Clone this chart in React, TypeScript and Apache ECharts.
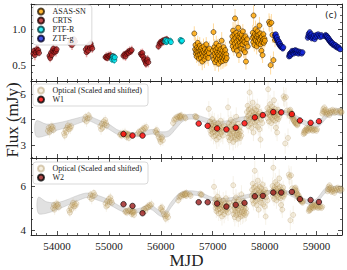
import React, { useEffect, useRef } from 'react';
import * as echarts from 'echarts';

// ---------- Data: optical light curves [MJD, normalised flux, error] ----------
const crts: number[][] = [
  [53545, 0.66, 0.06], [53560, 0.70, 0.05], [53575, 0.64, 0.07], [53590, 0.68, 0.05], [53610, 0.72, 0.06], [53625, 0.69, 0.05], [53640, 0.71, 0.06], [53655, 0.67, 0.05],
  [53855, 0.63, 0.07], [53870, 0.60, 0.06], [53885, 0.67, 0.06], [53900, 0.64, 0.07], [53915, 0.70, 0.05], [53930, 0.73, 0.06], [53950, 0.68, 0.05], [53965, 0.71, 0.06], [53980, 0.69, 0.07], [53995, 0.72, 0.05],
  [54255, 0.80, 0.06], [54270, 0.84, 0.05], [54290, 0.78, 0.07], [54310, 0.82, 0.06], [54330, 0.86, 0.05], [54350, 0.83, 0.06],
  [54555, 0.72, 0.06], [54570, 0.68, 0.07], [54585, 0.75, 0.06], [54600, 0.70, 0.05], [54620, 0.78, 0.06], [54635, 0.74, 0.07], [54650, 0.80, 0.06], [54665, 0.76, 0.05], [54680, 0.73, 0.06],
  [54935, 0.61, 0.05], [54950, 0.62, 0.06], [54970, 0.60, 0.05], [54990, 0.63, 0.06], [55010, 0.62, 0.05], [55030, 0.64, 0.06], [55050, 0.61, 0.05], [55070, 0.60, 0.06], [55090, 0.62, 0.05],
  [55280, 0.63, 0.06], [55300, 0.65, 0.05], [55320, 0.62, 0.06], [55340, 0.66, 0.05], [55360, 0.68, 0.06], [55380, 0.67, 0.05], [55400, 0.70, 0.06], [55420, 0.69, 0.05], [55440, 0.71, 0.06],
  [55615, 0.66, 0.06], [55630, 0.64, 0.07], [55645, 0.67, 0.06], [55660, 0.62, 0.07], [55680, 0.58, 0.06], [55700, 0.55, 0.07], [55715, 0.52, 0.06], [55730, 0.56, 0.07], [55745, 0.58, 0.06], [55760, 0.54, 0.07],
  [55955, 0.76, 0.05], [55975, 0.80, 0.06], [55995, 0.82, 0.05], [56015, 0.81, 0.06], [56035, 0.84, 0.05], [56055, 0.83, 0.06], [56075, 0.85, 0.05], [56095, 0.84, 0.06], [56115, 0.86, 0.05],
];

const ptfR: number[][] = [
  [55060, 0.58, 0.05], [55075, 0.62, 0.05], [55090, 0.60, 0.05], [55105, 0.57, 0.05], [55115, 0.61, 0.05],
  [56080, 0.83, 0.04], [56095, 0.85, 0.04], [56110, 0.82, 0.04], [56125, 0.84, 0.04],
  [56180, 0.84, 0.04], [56195, 0.82, 0.04],
  [56380, 0.85, 0.04], [56395, 0.83, 0.04], [56410, 0.84, 0.04],
];

const asassn: number[][] = [
  [56645, 0.94, 0.10], [56660, 0.72, 0.09], [56668, 0.78, 0.11], [56675, 0.66, 0.08], [56683, 0.70, 0.10], [56690, 0.62, 0.09], [56698, 0.75, 0.12], [56705, 0.68, 0.08], [56712, 0.81, 0.10], [56720, 0.64, 0.09], [56728, 0.73, 0.11], [56735, 0.59, 0.10], [56742, 0.69, 0.08], [56750, 0.77, 0.12], [56758, 0.65, 0.09], [56765, 0.71, 0.10], [56773, 0.60, 0.11], [56780, 0.74, 0.09], [56790, 0.67, 0.10], [56798, 0.55, 0.12], [56805, 0.70, 0.09], [56815, 0.63, 0.10], [56822, 0.76, 0.11], [56830, 0.68, 0.09], [56840, 0.58, 0.12], [56848, 0.72, 0.10], [56858, 0.66, 0.09], [56866, 0.62, 0.11], [56875, 0.79, 0.10], [56885, 0.69, 0.09], [56895, 0.64, 0.12], [56905, 0.71, 0.10], [56915, 0.60, 0.11], [56925, 0.67, 0.09], [56935, 0.73, 0.10],
  [57000, 0.70, 0.10], [57008, 0.63, 0.09], [57015, 0.96, 0.12], [57022, 0.58, 0.10], [57030, 0.75, 0.11], [57037, 0.66, 0.09], [57045, 0.54, 0.12], [57052, 0.71, 0.10], [57060, 0.62, 0.09], [57068, 0.80, 0.11], [57075, 0.57, 0.10], [57083, 0.68, 0.09], [57090, 0.74, 0.12], [57098, 0.60, 0.10], [57105, 0.65, 0.09], [57113, 0.52, 0.11], [57120, 0.77, 0.10], [57128, 0.63, 0.09], [57135, 0.69, 0.12], [57143, 0.58, 0.10], [57150, 0.72, 0.09], [57158, 0.55, 0.11], [57165, 0.66, 0.10], [57173, 0.84, 0.12], [57180, 0.61, 0.09], [57188, 0.70, 0.10], [57195, 0.56, 0.11], [57203, 0.64, 0.09], [57210, 0.75, 0.10], [57218, 0.59, 0.12], [57226, 0.67, 0.09], [57234, 0.62, 0.10], [57242, 0.71, 0.11], [57250, 0.57, 0.09], [57260, 0.65, 0.10], [57270, 0.60, 0.11],
  [57370, 0.82, 0.10], [57378, 0.90, 0.11], [57385, 0.76, 0.09], [57392, 0.98, 0.12], [57400, 0.85, 0.10], [57407, 0.72, 0.09], [57415, 0.93, 0.11], [57422, 0.80, 0.10], [57430, 1.15, 0.13], [57437, 0.88, 0.10], [57445, 0.75, 0.09], [57452, 0.95, 0.12], [57460, 0.83, 0.10], [57467, 0.70, 0.09], [57475, 0.91, 0.11], [57482, 0.78, 0.10], [57490, 1.02, 0.12], [57497, 0.86, 0.10], [57505, 0.64, 0.11], [57512, 0.89, 0.10], [57520, 0.81, 0.09], [57527, 0.94, 0.12], [57535, 0.77, 0.10], [57542, 0.87, 0.09], [57550, 0.73, 0.11], [57557, 0.92, 0.10], [57565, 0.84, 0.09], [57572, 0.79, 0.12], [57580, 0.97, 0.10], [57588, 0.85, 0.09], [57595, 0.71, 0.11], [57603, 0.88, 0.10], [57612, 0.82, 0.09], [57620, 0.68, 0.12], [57630, 0.90, 0.10], [57640, 0.55, 0.11], [57650, 0.80, 0.10], [57662, 0.86, 0.09], [57675, 0.76, 0.11],
  [57765, 0.88, 0.10], [57772, 0.95, 0.11], [57780, 0.82, 0.09], [57787, 1.19, 0.14], [57795, 0.90, 0.10], [57802, 0.78, 0.09], [57810, 0.93, 0.11], [57817, 0.86, 0.10], [57825, 1.00, 0.12], [57832, 0.84, 0.09], [57840, 0.91, 0.10], [57847, 0.76, 0.11], [57855, 0.89, 0.10], [57862, 0.97, 0.12], [57870, 0.83, 0.09], [57877, 0.92, 0.10], [57885, 0.80, 0.11], [57892, 0.87, 0.09], [57900, 1.05, 0.12], [57907, 0.85, 0.10], [57915, 0.94, 0.09], [57922, 0.79, 0.11], [57930, 0.88, 0.10], [57938, 0.70, 0.12], [57945, 0.90, 0.09], [57953, 0.82, 0.10], [57960, 0.64, 0.11], [57968, 0.86, 0.10], [57976, 0.93, 0.09], [57985, 0.81, 0.11], [57995, 0.87, 0.10], [58005, 0.84, 0.09],
  [58085, 1.10, 0.12], [58100, 1.07, 0.11], [58115, 0.50, 0.13], [58130, 1.09, 0.12], [58150, 0.92, 0.11], [58170, 0.57, 0.12], [58200, 0.85, 0.10],
];

const ztfG: number[][] = [
  [58200, 0.92, 0.02], [58208, 0.90, 0.02], [58215, 0.93, 0.02], [58222, 0.88, 0.02], [58230, 0.86, 0.02], [58238, 0.89, 0.02], [58245, 0.84, 0.02], [58252, 0.85, 0.02], [58260, 0.82, 0.02], [58268, 0.80, 0.02], [58275, 0.83, 0.02], [58283, 0.79, 0.02], [58290, 0.78, 0.02], [58298, 0.80, 0.02], [58305, 0.76, 0.02], [58313, 0.77, 0.02], [58320, 0.75, 0.02], [58330, 0.76, 0.02], [58340, 0.74, 0.02], [58350, 0.73, 0.02], [58360, 0.75, 0.02],
  [58470, 0.62, 0.02], [58478, 0.64, 0.02], [58485, 0.66, 0.02], [58493, 0.63, 0.02], [58500, 0.67, 0.02], [58510, 0.65, 0.02], [58520, 0.68, 0.02], [58530, 0.70, 0.02], [58540, 0.67, 0.02], [58550, 0.69, 0.02], [58560, 0.66, 0.02], [58570, 0.70, 0.02], [58580, 0.68, 0.02], [58590, 0.71, 0.02], [58600, 0.69, 0.02], [58610, 0.67, 0.02], [58620, 0.70, 0.02], [58635, 0.68, 0.02], [58650, 0.66, 0.02], [58665, 0.69, 0.02], [58680, 0.67, 0.02], [58700, 0.68, 0.02], [58715, 0.66, 0.02], [58730, 0.68, 0.02],
  [58830, 0.88, 0.02], [58840, 0.91, 0.02], [58850, 0.94, 0.02], [58860, 0.90, 0.02], [58870, 0.96, 0.02], [58880, 0.92, 0.02], [58890, 0.89, 0.02], [58900, 0.93, 0.02], [58910, 0.87, 0.02], [58920, 0.90, 0.02], [58935, 0.88, 0.02], [58950, 0.91, 0.02], [58965, 0.86, 0.02], [58980, 0.89, 0.02], [58995, 0.92, 0.02], [59010, 0.90, 0.02], [59030, 0.93, 0.02], [59050, 0.91, 0.02], [59070, 0.89, 0.02], [59090, 0.92, 0.02], [59105, 0.90, 0.02],
  [59165, 0.90, 0.02], [59175, 0.92, 0.02], [59185, 0.91, 0.02], [59195, 0.89, 0.02], [59205, 0.90, 0.02], [59215, 0.87, 0.02], [59225, 0.88, 0.02], [59235, 0.85, 0.02], [59245, 0.86, 0.02], [59255, 0.83, 0.02], [59265, 0.84, 0.02], [59275, 0.81, 0.02], [59285, 0.82, 0.02], [59295, 0.80, 0.02], [59305, 0.81, 0.02], [59320, 0.78, 0.02], [59335, 0.79, 0.02], [59350, 0.77, 0.02], [59365, 0.78, 0.02], [59380, 0.75, 0.02], [59395, 0.76, 0.02], [59410, 0.74, 0.02], [59425, 0.75, 0.02], [59440, 0.73, 0.02], [59455, 0.72, 0.02],
];

// ---------- WISE photometry ----------
const wiseMjd = [55282, 55455, 55648, 56730, 56903, 57085, 57264, 57444, 57612, 57811, 57965, 58166, 58320, 58525, 58680, 58886, 59046];
const w1Flux = [3.43, 3.37, 3.37, 3.84, 3.75, 3.65, 3.61, 3.68, 3.85, 4.08, 4.17, 4.29, 4.28, 4.21, 3.96, 3.87, 3.93];
const w2Flux = [5.17, 5.09, 4.76, 5.26, 5.26, 5.20, 5.06, 5.14, 5.23, 5.53, 5.55, 5.70, 5.70, 5.73, 5.40, 5.36, 5.27];

// ---------- Model band [MJD, centre, half width] ----------
const w1Band: number[][] = [
  [53600, 3.64, 0.30], [53800, 3.60, 0.22], [54000, 3.72, 0.14], [54200, 3.82, 0.13], [54400, 3.95, 0.11], [54600, 4.04, 0.09], [54800, 3.88, 0.10], [55000, 3.72, 0.10], [55150, 3.52, 0.09], [55300, 3.43, 0.08], [55500, 3.40, 0.08], [55700, 3.47, 0.09], [55850, 3.52, 0.09], [56000, 3.42, 0.10], [56150, 3.45, 0.11], [56300, 3.78, 0.12], [56450, 4.06, 0.10], [56650, 4.10, 0.09], [56900, 3.95, 0.09], [57100, 3.85, 0.08], [57300, 3.88, 0.08], [57500, 4.00, 0.08], [57700, 4.05, 0.08], [57900, 4.15, 0.08], [58100, 4.27, 0.08], [58300, 4.30, 0.08], [58500, 4.20, 0.08], [58700, 3.95, 0.09], [58900, 3.78, 0.09], [59050, 3.84, 0.10], [59200, 4.18, 0.11], [59350, 4.30, 0.11], [59500, 4.28, 0.13],
];
const w2Band: number[][] = [
  [53640, 5.12, 0.36], [53800, 5.02, 0.26], [54000, 5.08, 0.16], [54200, 5.25, 0.13], [54400, 5.45, 0.12], [54600, 5.58, 0.10], [54800, 5.45, 0.11], [55000, 5.27, 0.10], [55200, 5.00, 0.10], [55400, 4.85, 0.09], [55600, 4.90, 0.09], [55800, 5.04, 0.10], [55980, 4.75, 0.11], [56080, 4.72, 0.12], [56200, 5.15, 0.12], [56400, 5.62, 0.10], [56700, 5.66, 0.09], [57000, 5.40, 0.08], [57250, 5.36, 0.08], [57500, 5.45, 0.08], [57800, 5.60, 0.08], [58100, 5.72, 0.08], [58400, 5.72, 0.08], [58700, 5.40, 0.09], [58950, 5.25, 0.10], [59200, 5.85, 0.11], [59350, 5.86, 0.12], [59500, 5.80, 0.14],
];

// Scaling and time shift used for the "Optical (Scaled and shifted)" points
const W1_LAG = 280, W1_SCALE = 3.08, W1_OFFSET = 1.52;
const W2_LAG = 380, W2_SCALE = 3.46, W2_OFFSET = 2.71;

const xTickLabels = ['54000', '55000', '56000', '57000', '58000', '59000'];

const FONT = "'Liberation Serif', 'DejaVu Serif', serif";
const INK = '#222';

const opticalAll = [...crts, ...ptfR, ...asassn, ...ztfG];
const scaled = (lag: number, a: number, b: number) => opticalAll.map((d) => [d[0] + lag, d[1] * a + b, d[2] * a]);

function xAxes(gi: number, labels: boolean) {
  const common: any = {
    type: 'value', gridIndex: gi, min: 53500, max: 59490, splitNumber: 6,
    splitLine: { show: false },
    axisLine: { onZero: false, lineStyle: { color: INK, width: 0.9 } },
    axisTick: { inside: true, length: 4, lineStyle: { color: INK, width: 0.8 } },
    minorTick: { show: true, splitNumber: 5, length: 2, lineStyle: { color: INK, width: 0.7 } },
  };
  return [
    {
      ...common, position: 'bottom',
      axisLabel: {
        show: labels, fontFamily: FONT, fontSize: 11, color: INK, margin: 5,
        formatter: (v: number) => (xTickLabels.includes(String(v)) ? String(v) : ''),
      },
      name: labels ? 'MJD' : '', nameLocation: 'middle', nameGap: 13,
      nameTextStyle: { fontFamily: FONT, fontSize: 17, color: INK },
    },
    { ...common, position: 'top', axisLabel: { show: false } },
  ];
}

function yAxes(gi: number, min: number, max: number, split: number, minorSplit: number, dec: number) {
  const common: any = {
    type: 'value', gridIndex: gi, min, max, splitNumber: split,
    splitLine: { show: false },
    axisLine: { onZero: false, lineStyle: { color: INK, width: 0.9 } },
    axisTick: { inside: true, length: 4, lineStyle: { color: INK, width: 0.8 } },
    minorTick: { show: true, splitNumber: minorSplit, length: 2, lineStyle: { color: INK, width: 0.7 } },
  };
  return [
    {
      ...common, position: 'left',
      axisLabel: { fontFamily: FONT, fontSize: 11, color: INK, margin: 5, showMinLabel: false, showMaxLabel: false, formatter: (v: number) => v.toFixed(dec) },
    },
    { ...common, position: 'right', axisLabel: { show: false } },
  ];
}

function errBars(data: number[][], ai: number, color: string, width: number, z: number) {
  return {
    type: 'custom', xAxisIndex: ai, yAxisIndex: ai, clip: true, silent: true, z,
    data: data.map((d) => [d[0], d[1] - d[2], d[1] + d[2]]),
    encode: { x: 0, y: [1, 2] },
    renderItem: (_p: any, api: any) => {
      const a = api.coord([api.value(0), api.value(1)]);
      const b = api.coord([api.value(0), api.value(2)]);
      return { type: 'line', shape: { x1: a[0], y1: a[1], x2: b[0], y2: b[1] }, style: { stroke: color, lineWidth: width } };
    },
  };
}

function dots(name: string, data: number[][], ai: number, color: string, border: string, size: number, z: number, bw = 0.7) {
  return {
    type: 'scatter', name, xAxisIndex: ai, yAxisIndex: ai, z, symbolSize: size,
    data: data.map((d) => [d[0], d[1]]),
    itemStyle: { color, borderColor: border, borderWidth: bw },
  };
}

// Model band drawn as one smoothed polygon through the axis scales
function band(b: number[][], ai: number) {
  return {
    type: 'custom', xAxisIndex: ai, yAxisIndex: ai, clip: true, silent: true, z: 1,
    data: b.map((d) => [d[0], d[1] - d[2], d[1] + d[2]]),
    encode: { x: 0, y: [1, 2] },
    renderItem: (params: any, api: any) => {
      if (params.dataIndex !== 0) return null;
      const upper = b.map((d) => api.coord([d[0], d[1] + d[2]]));
      const lower = b.map((d) => api.coord([d[0], d[1] - d[2]])).reverse();
      return {
        type: 'polygon',
        shape: { points: [...upper, ...lower], smooth: 0.35 },
        style: { fill: 'rgba(205,205,205,0.6)', stroke: 'rgba(180,180,180,0.7)', lineWidth: 0.6 },
      };
    },
  };
}

const legendBase: any = {
  orient: 'vertical', left: 33, itemWidth: 13, itemHeight: 6, itemGap: 0, icon: 'circle',
  padding: [2, 6, 2, 4], backgroundColor: 'rgba(255,255,255,0.9)', borderColor: '#cfcfcf', borderWidth: 0.8, borderRadius: 3,
  textStyle: { fontFamily: FONT, fontSize: 8, color: INK, lineHeight: 9 },
  selectedMode: false,
};

export default function App() {
  const ref = useRef<HTMLDivElement>(null);
  useEffect(() => {
    if (!ref.current) return;
    const chart = echarts.init(ref.current, null, { renderer: 'svg' });
    const optW1 = scaled(W1_LAG, W1_SCALE, W1_OFFSET);
    const optW2 = scaled(W2_LAG, W2_SCALE, W2_OFFSET);
    const w1 = wiseMjd.map((m, i) => [m, w1Flux[i]]);
    const w2 = wiseMjd.map((m, i) => [m, w2Flux[i]]);
    const faintFill = 'rgba(214,182,122,0.30)';
    const faintEdge = 'rgba(140,105,40,0.40)';
    chart.setOption({
      animation: false,
      backgroundColor: '#fff',
      grid: [4, 81, 158].map((t) => ({ left: 31, right: 5, top: t, height: 77, outerBoundsMode: 'none' })),
      xAxis: [...xAxes(0, false), ...xAxes(1, false), ...xAxes(2, true)],
      yAxis: [...yAxes(0, 0.28, 1.35, 2, 5, 1), ...yAxes(1, 2.49, 5.51, 3, 2, 0), ...yAxes(2, 3.77, 7.27, 2, 4, 0)],
      legend: [
        { ...legendBase, top: 5, data: ['ASAS-SN', 'CRTS', 'PTF-R', 'ZTF-g'] },
        { ...legendBase, top: 84, data: ['Optical (Scaled and shifted)', 'W1'] },
        { ...legendBase, top: 162, data: ['Optical (Scaled and shifted)', 'W2'] },
      ],
      graphic: [
        { type: 'text', x: 12, y: 120, rotation: Math.PI / 2, style: { text: 'Flux (mJy)', font: `17px ${FONT}`, fill: INK, align: 'center', verticalAlign: 'middle' } },
        { type: 'text', x: 331, y: 15, style: { text: '(c)', font: "9px 'DejaVu Sans', sans-serif", fill: INK, align: 'center', verticalAlign: 'middle' } },
      ],
      series: [
        errBars(crts, 0, 'rgba(222,100,100,0.55)', 1.5, 2),
        errBars(ptfR, 0, 'rgba(0,225,235,0.75)', 1.5, 2),
        errBars(asassn, 0, 'rgba(255,190,80,0.55)', 1, 2),
        errBars(ztfG, 0, 'rgba(30,40,220,0.6)', 1, 2),
        dots('CRTS', crts, 0, '#b22222', '#200000', 5, 3),
        dots('PTF-R', ptfR, 0, '#00e8f0', '#003c40', 5, 3),
        dots('ASAS-SN', asassn, 0, '#ffa500', '#2a1800', 5, 3),
        dots('ZTF-g', ztfG, 0, '#1428e0', '#000028', 5, 4),

        band(w1Band, 2),
        errBars(optW1, 2, 'rgba(190,160,100,0.18)', 0.8, 2),
        dots('Optical (Scaled and shifted)', optW1, 2, faintFill, faintEdge, 5, 3, 0.6),
        dots('W1', w1, 2, '#ff0000', '#000', 5.5, 5, 0.8),

        band(w2Band, 4),
        errBars(optW2, 4, 'rgba(190,160,100,0.18)', 0.8, 2),
        dots('Optical (Scaled and shifted)', optW2, 4, faintFill, faintEdge, 5, 3, 0.6),
        dots('W2', w2, 4, '#9b1b1b', '#000', 5.5, 5, 0.8),
      ],
    });
    return () => chart.dispose();
  }, []);
  return <div ref={ref} style={{ position: 'fixed', left: 0, top: 0, width: 347, height: 270 }} />;
}
